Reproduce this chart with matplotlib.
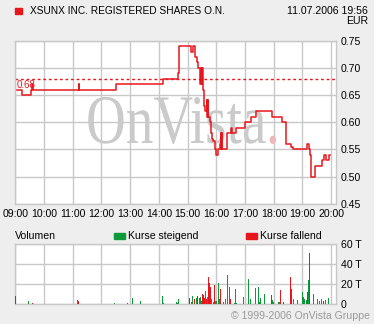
import matplotlib
matplotlib.use("Agg")
import matplotlib.pyplot as plt
from matplotlib.patches import Rectangle, PathPatch
from matplotlib.textpath import TextPath
from matplotlib.font_manager import FontProperties
from matplotlib.transforms import Affine2D

# ---------------- data ----------------
title = "XSUNX INC. REGISTERED SHARES O.N."
stamp = "11.07.2006 19:56"
currency = "EUR"
prev_close = 0.68

price_times = ["09:04", "09:13", "09:33", "09:34", "09:36", "11:13", "11:14", "12:31",
               "14:09", "14:39", "14:43", "15:07", "15:12", "15:15", "15:16", "15:19",
               "15:21", "15:26", "15:27", "15:28", "15:29", "15:30", "15:31", "15:32",
               "15:35", "15:37", "15:40", "15:41", "15:42", "15:43", "15:46", "15:48",
               "15:51", "15:54", "15:57", "16:00", "16:04", "16:08", "16:09", "16:10",
               "16:11", "16:12", "16:15", "16:23", "16:30", "16:32", "16:41", "17:00",
               "17:12", "17:23", "17:57", "18:17", "18:25", "18:37", "18:41", "19:10",
               "19:13", "19:15", "19:18", "19:26", "19:40", "19:45", "19:50", "19:56",
               "19:57"]
price_values = [0.66, 0.65, 0.66, 0.67, 0.66, 0.67, 0.66, 0.67,
                0.68, 0.69, 0.74, 0.73, 0.74, 0.73, 0.72, 0.71,
                0.70, 0.67, 0.70, 0.67, 0.70, 0.67, 0.70, 0.66,
                0.63, 0.62, 0.64, 0.61, 0.64, 0.61, 0.60, 0.58,
                0.57, 0.565, 0.55, 0.54, 0.55, 0.56, 0.58, 0.55,
                0.58, 0.55, 0.55, 0.58, 0.59, 0.58, 0.59, 0.60,
                0.61, 0.62, 0.61, 0.60, 0.56, 0.555, 0.55, 0.56,
                0.55, 0.54, 0.50, 0.52, 0.53, 0.54, 0.53, 0.54,
                0.54]

vol_times = ["09:00", "09:08", "09:27", "09:31", "09:36", "10:19", "11:10", "11:12",
             "12:27", "12:54", "13:05", "13:21", "14:07", "14:09", "14:37", "14:39",
             "14:41", "15:04", "15:08", "15:10", "15:14", "15:18", "15:20", "15:25",
             "15:27", "15:29", "15:31", "15:33", "15:35", "15:37", "15:39", "15:41",
             "15:43", "15:46", "15:48", "15:50", "15:54", "15:56", "15:58", "16:00",
             "16:04", "16:06", "16:09", "16:15", "16:19", "16:23", "16:27", "16:29",
             "16:38", "16:40", "16:42", "16:57", "17:07", "17:11", "17:22", "17:28",
             "17:30", "17:32", "17:41", "17:55", "17:57", "17:59", "18:10", "18:12",
             "18:14", "18:20", "18:35", "18:37", "18:41", "18:50", "19:00", "19:02",
             "19:04", "19:08", "19:10", "19:13", "19:15", "19:23", "19:31", "19:36",
             "19:40", "19:44", "19:48", "19:54"]
vol_values = [8, 4, 3, 2, 1.5, 4, 4, 3,
              1.5, 1.5, 6, 3, 8, 1.5, 2, 1.5,
              5, 6, 2, 8, 5, 6, 8, 6,
              7, 3, 10, 9, 6, 13, 5, 7,
              27, 21, 17, 5, 2, 19, 3, 3,
              21, 5, 15, 2, 5, 29, 17, 5,
              1.5, 15, 1.5, 7, 25, 5, 16, 17,
              2, 6, 10, 9, 4, 2, 2, 2,
              14, 2, 27, 15, 5, 4, 12, 7,
              5, 4, 12, 24, 51, 10, 5, 3,
              5, 3, 4, 6]
vol_up = ["n", "n", "u", "u", "n", "u", "u", "n",
          "u", "u", "u", "u", "u", "u", "u", "u",
          "u", "n", "u", "u", "n", "u", "n", "u",
          "u", "u", "n", "n", "n", "u", "n", "u",
          "n", "n", "n", "u", "u", "n", "u", "u",
          "u", "u", "n", "u", "u", "u", "u", "n",
          "u", "u", "u", "u", "u", "u", "u", "u",
          "u", "u", "u", "n", "u", "u", "u", "u",
          "n", "n", "n", "n", "u", "u", "u", "u",
          "u", "u", "n", "u", "n", "u", "u", "u",
          "u", "n", "u", "u"]

hour_labels = ["09:00", "10:00", "11:00", "12:00", "13:00", "14:00", "15:00",
               "16:00", "17:00", "18:00", "19:00", "20:00"]
price_ticks = [0.45, 0.50, 0.55, 0.60, 0.65, 0.70, 0.75]
vol_ticks = [0, 20, 40, 60]
vol_tick_labels = ["0", "20 T", "40 T", "60 T"]


def minutes(t):
    h, m = t.split(":")
    return (int(h) - 9) * 60 + int(m)


# ---------------- style ----------------
RED = "#e8161c"
GREEN = "#0f9a3a"
GRID = "#c8c8c8"
BG = "#eeeeee"
W, H = 374, 324
FONT = "Liberation Sans"
FS = 7.6

plt.rcParams["font.family"] = [FONT, "DejaVu Sans"]

fig = plt.figure(figsize=(W / 100, H / 100), dpi=100, facecolor=BG)


def fx(px):
    return px / W


def fy(py):
    return 1 - py / H


# main price axes
ax = fig.add_axes([fx(15.3), fy(203.7), fx(336) - fx(15.3), fy(40.7) - fy(203.7)])
ax.set_facecolor("white")
pt = [minutes(t) for t in price_times]
ax.plot(pt, price_values, drawstyle="steps-post", color=RED, lw=1.1, zorder=3)
ax.axhline(prev_close, color=RED, lw=1.0, linestyle=(0, (2, 2)), zorder=2)
ax.text(3, prev_close - 0.002, f"{prev_close:.2f}", color=RED, fontsize=7,
        va="top", ha="left", zorder=3)
ax.set_xlim(0, 670)
ax.set_ylim(0.45, 0.75)
ax.set_xticks([i * 60 for i in range(len(hour_labels))])
ax.set_xticklabels(hour_labels, fontsize=FS)
ax.set_yticks(price_ticks)
ax.set_yticklabels([f"{v:.2f}" for v in price_ticks], fontsize=FS)
ax.yaxis.tick_right()
ax.tick_params(length=0, pad=3.5)
ax.grid(True, color=GRID, lw=1.0)
ax.set_axisbelow(True)
for s in ax.spines.values():
    s.set_color(GRID)
    s.set_linewidth(1.0)

# watermark
fp = FontProperties(family="Liberation Serif")
tp = TextPath((0, 0), "OnVista", size=58, prop=fp)
tr = Affine2D().scale(0.95, 1.2).translate(86, H - 143).scale(1 / W, 1 / H) + fig.transFigure
ax.add_patch(PathPatch(tp, transform=tr, facecolor="#cacaca", edgecolor="none", zorder=1))
tp2 = TextPath((0, 0), ".", size=58, prop=fp)
tr2 = Affine2D().scale(0.95, 1.2).translate(266, H - 143).scale(1 / W, 1 / H) + fig.transFigure
ax.add_patch(PathPatch(tp2, transform=tr2, facecolor="#e9b9bb", edgecolor="none", zorder=1))

# volume axes
av = fig.add_axes([fx(15.3), fy(304.3), fx(336) - fx(15.3), fy(244.3) - fy(304.3)])
av.set_facecolor("white")
vt = [minutes(t) for t in vol_times]
cols = [GREEN if u == "u" else RED for u in vol_up]
av.bar(vt, vol_values, width=1.4, color=cols, align="center", zorder=3)
av.set_xlim(0, 670)
av.set_ylim(0, 60)
av.set_xticks([i * 60 for i in range(len(hour_labels))])
av.set_xticklabels([])
av.set_yticks(vol_ticks)
av.set_yticklabels(vol_tick_labels, fontsize=FS)
av.yaxis.tick_right()
av.tick_params(length=0, pad=3.5)
av.grid(True, color=GRID, lw=1.0)
av.set_axisbelow(True)
for s in av.spines.values():
    s.set_color(GRID)
    s.set_linewidth(1.0)

# header
fig.patches.append(Rectangle((fx(15), fy(13.5)), fx(7), fy(8) - fy(13.5),
                             transform=fig.transFigure, color=RED))
fig.text(fx(30), fy(10.5), title, fontsize=7.3, va="center", ha="left")
fig.text(fx(368), fy(10.5), stamp, fontsize=FS, va="center", ha="right")
fig.text(fx(368), fy(21.5), currency, fontsize=FS, va="center", ha="right")

# volume legend
fig.text(fx(15), fy(236), "Volumen", fontsize=FS, va="center", ha="left")
fig.patches.append(Rectangle((fx(114), fy(239)), fx(11), fy(233) - fy(239),
                             transform=fig.transFigure, color=GREEN))
fig.text(fx(128), fy(236), "Kurse steigend", fontsize=FS, va="center", ha="left")
fig.patches.append(Rectangle((fx(246), fy(239)), fx(11), fy(233) - fy(239),
                             transform=fig.transFigure, color=RED))
fig.text(fx(260), fy(236), "Kurse fallend", fontsize=FS, va="center", ha="left")

# copyright
fig.text(fx(370), fy(316), "\u00a9 1999-2006 OnVista Gruppe", fontsize=FS,
         va="center", ha="right", color="#9a9a9a")

fig.savefig("out.png", dpi=100, facecolor=BG)
